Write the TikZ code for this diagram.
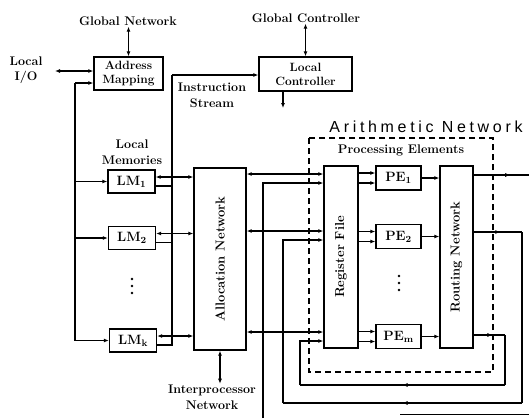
\documentclass[tikz,border=0pt]{standalone}
\usepackage{fontspec}
\newfontfamily\anfont[LetterSpace=23]{Liberation Sans}
\usetikzlibrary{arrows.meta,decorations.markings,calc}
\begin{document}
\begin{tikzpicture}[x=1pt,y=-1pt,
  txt/.style={font=\fontsize{12.5}{15.5}\selectfont\bfseries, align=center, inner sep=1pt},
  box/.style={draw, line width=1.3pt, inner sep=0pt, font=\fontsize{12}{14}\selectfont\bfseries, align=center},
  bigbox/.style={box, font=\fontsize{13.5}{15}\selectfont\bfseries},
  rottxt/.style={rotate=90, font=\fontsize{13}{15}\selectfont\bfseries},
  ln/.style={line width=1.1pt},
  arr/.style={ln, -{Latex[length=5pt,width=4pt]}},
  darr/.style={ln, {Latex[length=5pt,width=4pt]}-{Latex[length=5pt,width=4pt]}},
  marr/.style={ln, postaction={decorate}, decoration={markings, mark=at position #1 with {\arrow{Latex[length=5pt,width=4pt]}}}},
  marr/.default=0.55,
  dot/.style={circle, fill, inner sep=0pt, minimum size=2.6pt}
]
\useasboundingbox (0,0) rectangle (529,418);

% ---------- labels ----------
\node[txt] (gn) at (128,21) {Global Network};
\node[txt] (gc) at (306,18) {Global Controller};
\node[txt] (lio) at (26,70) {Local\\I/O};
\node[txt] (is) at (212,95.5) {Instruction\\Stream};
\node[txt] (lmlab) at (132,152) {Local\\Memories};
\node[txt] (pelab) at (401,150) {Processing Elements};
\node[txt] (ipn) at (212,397) {Interprocessor\\Network};
\node[font=\fontsize{16}{17}\selectfont\anfont, inner sep=0pt] (an) at (426,127) {Arithmetic Network};

% ---------- boxes ----------
\node[box, minimum width=69, minimum height=33] (am) at (128.5,73.5) {Address\\Mapping};
\node[box, minimum width=93, minimum height=34] (lc) at (305.5,74) {Local\\Controller};

\node[bigbox, minimum width=47, minimum height=23] (lm1) at (131.5,181.5) {LM\textsubscript{1}};
\node[bigbox, minimum width=47, minimum height=23] (lm2) at (132,238) {LM\textsubscript{2}};
\node[bigbox, minimum width=47, minimum height=23] (lmk) at (133,340.5) {LM\textsubscript{k}};
\node[dot] (lmd1) at (132,279) {};
\node[dot] (lmd2) at (132,286) {};
\node[dot] (lmd3) at (132,293) {};

\node[box, minimum width=52, minimum height=182] (alloc) at (220,259) {};
\node[rottxt] (allocT) at (alloc.center) {Allocation Network};

\node[box, minimum width=34, minimum height=182] (rf) at (341,257) {};
\node[rottxt] (rfT) at (rf.center) {Register File};

\node[bigbox, minimum width=45, minimum height=24] (pe1) at (398.5,178) {PE\textsubscript{1}};
\node[bigbox, minimum width=45, minimum height=24] (pe2) at (398.5,236.5) {PE\textsubscript{2}};
\node[bigbox, minimum width=45, minimum height=24] (pem) at (398.5,336.5) {PE\textsubscript{m}};
\node[dot] (ped1) at (399,276) {};
\node[dot] (ped2) at (399,283) {};
\node[dot] (ped3) at (399,290) {};

\node[box, minimum width=33, minimum height=182] (rn) at (456.5,257) {};
\node[rottxt] (rnT) at (rn.center) {Routing Network};

% dashed arithmetic network frame
\draw[line width=1.1pt, dash pattern=on 6pt off 4pt] (309,138) rectangle (493,372);

% ---------- coordinates ----------
\coordinate (io) at (55,71);
\coordinate (mbTop) at (75,83);
\coordinate (isTop) at (172,75);
\coordinate (lcout) at (283,108);
\coordinate (y1a) at (0,174); \coordinate (y1b) at (0,183); \coordinate (y1o) at (0,175);
\coordinate (y2a) at (0,231); \coordinate (y2b) at (0,240); \coordinate (y2o) at (0,232);
\coordinate (y3a) at (0,332); \coordinate (y3b) at (0,341); \coordinate (y3o) at (0,335);
\coordinate (fa) at (263,418);
\coordinate (fb1) at (283,403); \coordinate (fb2) at (522,403); \coordinate (fb3) at (522,232);
\coordinate (fc1) at (300,385); \coordinate (fc2) at (505,385); \coordinate (fc3) at (505,335);
\coordinate (out1) at (529,175);
\coordinate (bl1) at (400,414); \coordinate (bl2) at (529,414);

% ---------- top connections ----------
\draw[darr] (gn.south -| am.north) -- (am.north);
\draw[darr] (gc.south -| lc.north) -- (lc.north);
\draw[darr] (io) -- (io -| am.west);
\draw[arr] (mbTop) -- (mbTop -| am.west);
\draw[arr] (mbTop) |- (lmk.west);
\draw[arr] (lm1.west -| mbTop) -- (lm1.west);
\draw[arr] (lm2.west -| mbTop) -- (lm2.west);
\draw[arr] (isTop) -- (isTop -| lc.west);
\draw[arr] (lcout |- lc.south) -- (lcout);

% instruction stream to local memories
\draw[ln] ([yshift=-4.5pt]lmk.east) -| (isTop);
\draw[ln] ([yshift=-4.5pt]lm1.east) -- ([yshift=-4.5pt]lm1.east -| isTop);
\draw[ln] ([yshift=-4.5pt]lm2.east) -- ([yshift=-4.5pt]lm2.east -| isTop);

% local memories <-> allocation network
\draw[darr] ([yshift=4.5pt]lm1.east) -- ([yshift=4.5pt]lm1.east -| alloc.west);
\draw[darr] ([yshift=4.5pt]lm2.east) -- ([yshift=4.5pt]lm2.east -| alloc.west);
\draw[darr] ([yshift=4.5pt]lmk.east) -- ([yshift=4.5pt]lmk.east -| alloc.west);

\draw[darr] (alloc.south -| 220,0) -- (ipn.north -| 220,0);

% allocation network <-> register file
\draw[darr] (alloc.east |- y1a) -- (rf.west |- y1a);
\draw[darr] (alloc.east |- y2a) -- (rf.west |- y2a);
\draw[darr] (alloc.east |- y3a) -- (rf.west |- y3a);

% register file -> PEs
\draw[arr] ([yshift=5pt]pe1.west -| rf.east) -- ([yshift=5pt]pe1.west);
\draw[arr] ([yshift=-5pt]pe1.west -| rf.east) -- ([yshift=-5pt]pe1.west);
\draw[arr] ([yshift=5pt]pe2.west -| rf.east) -- ([yshift=5pt]pe2.west);
\draw[arr] ([yshift=-5pt]pe2.west -| rf.east) -- ([yshift=-5pt]pe2.west);
\draw[arr] ([yshift=5pt]pem.west -| rf.east) -- ([yshift=5pt]pem.west);
\draw[arr] ([yshift=-5pt]pem.west -| rf.east) -- ([yshift=-5pt]pem.west);

% PEs -> routing network
\draw[arr] (pe1.east) -- (pe1.east -| rn.west);
\draw[arr] (pe2.east) -- (pe2.east -| rn.west);
\draw[arr] (pem.east) -- (pem.east -| rn.west);

% routing network outputs and feedback
\draw[marr=0.66] (rn.east |- y1o) -- (out1);
\draw[arr] (fa) |- (rf.west |- y1b);

\draw[marr] (rn.east |- y2o) -- (fb3);
\draw[ln] (fb3) -- (fb2);
\draw[marr=0.5] (fb2) -- (fb1);
\draw[arr] (fb1) |- (rf.west |- y2b);

\draw[marr=0.6] (rn.east |- y3o) -- (fc3);
\draw[ln] (fc3) -- (fc2);
\draw[marr=0.5] (fc2) -- (fc1);
\draw[arr] (fc1) |- (rf.west |- y3b);

\draw[line width=0.8pt] (bl1) -- (bl2);
\end{tikzpicture}
\end{document}
